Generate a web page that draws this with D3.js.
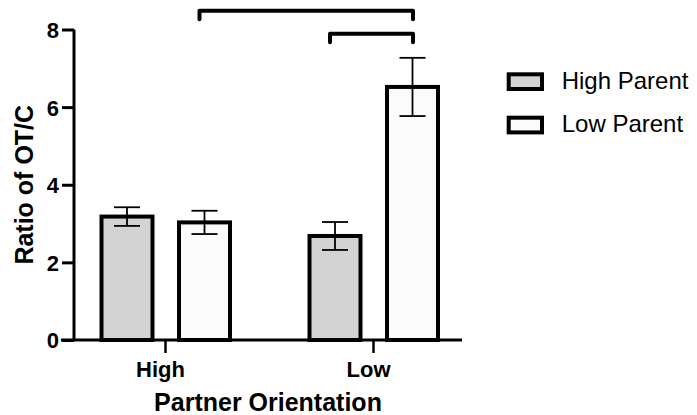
<!DOCTYPE html>
<html>
<head>
<meta charset="utf-8">
<script src="https://cdn.jsdelivr.net/npm/d3@7"></script>
<style>
  body { margin: 0; background: #fff; }
  text { font-family: "Liberation Sans", Arial, sans-serif; }
</style>
</head>
<body>
<div id="chart"></div>
<script>
// values
var groups = ["High", "Low"]
var series = ["High Parent", "Low Parent"]
var means = [[3.18, 3.03], [2.68, 6.52]]   // [group][series]
var errors = [[0.24, 0.30], [0.36, 0.75]]
var yTicks = [0, 2, 4, 6, 8]
var fills = ["#d3d3d3", "#fbfbfb"]
// significance brackets: from bar -> to bar, at a height in y units
var brackets = [
  { from: [0, 1], to: [1, 1], level: 8.48 },
  { from: [1, 0], to: [1, 1], level: 7.89 }
]

var width = 697, height = 415
var svg = d3.select("#chart").append("svg")
    .attr("width", width).attr("height", height)

var y = d3.scaleLinear().domain([0, 8]).range([340, 29.5])
var x0 = d3.scaleBand().domain(groups).range([61, 477])
var x1 = d3.scaleBand().domain(series).range([40.5, 169]).paddingInner(0.342).paddingOuter(0)

function barCenter(g, s) {
    return x0(groups[g]) + x1(series[s]) + x1.bandwidth() / 2
}

var data = []
groups.forEach(function(g, gi) {
    series.forEach(function(s, si) {
        data.push({ g: gi, s: si, mean: means[gi][si], err: errors[gi][si] })
    })
})

// bars
svg.append("g").selectAll("rect")
    .data(data).enter().append("rect")
    .attr("x", function(d) { return barCenter(d.g, d.s) - x1.bandwidth() / 2 })
    .attr("y", function(d) { return y(d.mean) })
    .attr("width", x1.bandwidth())
    .attr("height", function(d) { return y(0) - y(d.mean) })
    .attr("fill", function(d) { return fills[d.s] })
    .attr("stroke", "#000")
    .attr("stroke-width", 4)

// error bars
var eb = svg.append("g").attr("stroke", "#000").attr("stroke-width", 1.8)
data.forEach(function(d) {
    var cx = barCenter(d.g, d.s)
    eb.append("line").attr("x1", cx).attr("x2", cx)
        .attr("y1", y(d.mean + d.err)).attr("y2", y(d.mean - d.err))
    ;[d.mean + d.err, d.mean - d.err].forEach(function(v) {
        eb.append("line").attr("x1", cx - 13).attr("x2", cx + 13)
            .attr("y1", y(v)).attr("y2", y(v))
    })
})

// y axis
var yAxis = svg.append("g").attr("transform", "translate(74,0)")
    .call(d3.axisLeft(y).tickValues(yTicks).tickSize(12).tickPadding(3).tickFormat(d3.format("d")))
yAxis.select(".domain").attr("d", "M0," + y(8) + "V" + y(0)).attr("stroke-width", 3)
yAxis.selectAll(".tick line").attr("stroke-width", 3)
yAxis.selectAll(".tick text")
    .attr("font-size", 22).attr("font-weight", "bold").attr("fill", "#000")
    .attr("font-family", "'Liberation Sans', Arial, sans-serif")
    .attr("dy", "0.36em")

// x axis
var xAxis = svg.append("g").attr("transform", "translate(0," + y(0) + ")")
xAxis.append("line").attr("x1", 61).attr("x2", 462).attr("stroke", "#000").attr("stroke-width", 3)
groups.forEach(function(g) {
    var cx = x0(g) + 104.5
    xAxis.append("line").attr("x1", cx).attr("x2", cx).attr("y1", 0).attr("y2", 13)
        .attr("stroke", "#000").attr("stroke-width", 2.5)
    xAxis.append("text").attr("x", cx - 5).attr("y", 37)
        .attr("text-anchor", "middle").attr("font-size", 22).attr("font-weight", "bold")
        .text(g)
})

// axis titles
svg.append("text").attr("x", 268).attr("y", 411)
    .attr("text-anchor", "middle").attr("font-size", 25).attr("font-weight", "bold")
    .text("Partner Orientation")
svg.append("text").attr("transform", "translate(33," + (y(4)) + ") rotate(-90)")
    .attr("text-anchor", "middle").attr("font-size", 25).attr("font-weight", "bold")
    .text("Ratio of OT/C")

// brackets
var br = svg.append("g").attr("fill", "none").attr("stroke", "#000")
    .attr("stroke-width", 4).attr("stroke-linecap", "round").attr("stroke-linejoin", "round")
brackets.forEach(function(b) {
    var xa = barCenter(b.from[0], b.from[1]) - 5, xb = barCenter(b.to[0], b.to[1]) + 0.5
    var yl = y(b.level)
    br.append("path").attr("d", "M" + xa + "," + (yl + 8.5) + "V" + yl + "H" + xb + "V" + (yl + 8.5))
})

// legend
var lg = svg.append("g").attr("transform", "translate(508.7,0)")
series.forEach(function(s, i) {
    var top = 74.3 + i * 43.4
    lg.append("rect").attr("x", 0).attr("y", top).attr("width", 33.3).attr("height", 14.7)
        .attr("fill", fills[i]).attr("stroke", "#000").attr("stroke-width", 4)
    lg.append("text").attr("x", 53).attr("y", top + 14.5).attr("font-size", 24)
        .text(s)
})
</script>
</body>
</html>
